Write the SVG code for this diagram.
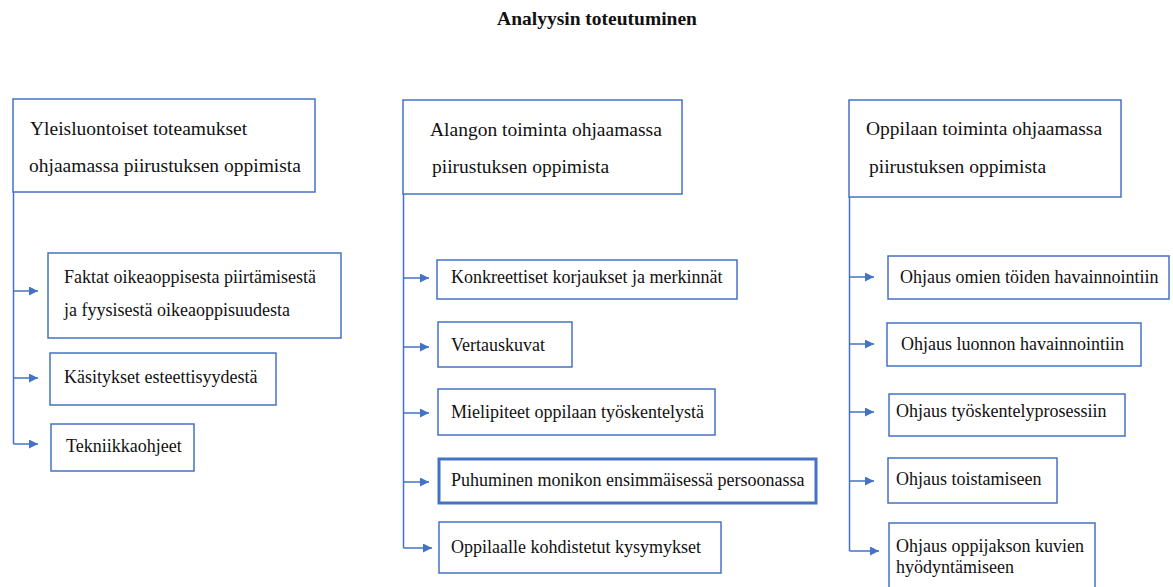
<svg xmlns="http://www.w3.org/2000/svg" width="1173" height="587" viewBox="0 0 1173 587">
<style>
.box{fill:#fff;stroke:#4472C4;stroke-width:1.5}
.thick{stroke-width:3}
.t{font-family:"Liberation Serif","Times New Roman",serif;font-size:18px;fill:#111}
.h{font-size:19.5px}
.title{font-family:"Liberation Serif","Times New Roman",serif;font-size:19.5px;font-weight:bold;fill:#111}
.ln{fill:none;stroke:#4472C4;stroke-width:1.5}
</style>
<defs>
<marker id="arr" markerWidth="10" markerHeight="10" refX="9" refY="4.5" orient="auto" markerUnits="userSpaceOnUse">
<path d="M0,0 L9,4.5 L0,9 Z" fill="#4472C4"/>
</marker>
</defs>
<rect width="1173" height="587" fill="#fff"/>
<text class="title" x="597" y="25" text-anchor="middle">Analyysin toteutuminen</text>

<g id="connectors">
<path class="ln" d="M13.5,192 V444"/>
<path class="ln" d="M13.5,291 H38" marker-end="url(#arr)"/>
<path class="ln" d="M13.5,378 H38" marker-end="url(#arr)"/>
<path class="ln" d="M13.5,444 H38" marker-end="url(#arr)"/>
<path class="ln" d="M403.5,194 V548"/>
<path class="ln" d="M403.5,278 H429" marker-end="url(#arr)"/>
<path class="ln" d="M403.5,347 H429" marker-end="url(#arr)"/>
<path class="ln" d="M403.5,413 H429" marker-end="url(#arr)"/>
<path class="ln" d="M403.5,482 H429" marker-end="url(#arr)"/>
<path class="ln" d="M403.5,548 H432" marker-end="url(#arr)"/>
<path class="ln" d="M849.5,197 V551"/>
<path class="ln" d="M849.5,277 H874" marker-end="url(#arr)"/>
<path class="ln" d="M849.5,344 H874" marker-end="url(#arr)"/>
<path class="ln" d="M849.5,412 H874" marker-end="url(#arr)"/>
<path class="ln" d="M849.5,481 H874" marker-end="url(#arr)"/>
<path class="ln" d="M849.5,551 H879" marker-end="url(#arr)"/>
</g>

<g id="h1"><rect class="box" x="13" y="99" width="302" height="93"/>
<text class="t h" x="30" y="135">Yleisluontoiset toteamukset</text>
<text class="t h" x="29" y="172">ohjaamassa piirustuksen oppimista</text></g>
<g id="n1a"><rect class="box" x="48" y="253" width="293" height="85"/>
<text class="t" x="64" y="283">Faktat oikeaoppisesta piirtämisestä</text>
<text class="t" x="64" y="316">ja fyysisestä oikeaoppisuudesta</text></g>
<g id="n1b"><rect class="box" x="50" y="353" width="226" height="52"/>
<text class="t" x="64" y="383">Käsitykset esteettisyydestä</text></g>
<g id="n1c"><rect class="box" x="51" y="424" width="143" height="47"/>
<text class="t" x="66" y="452">Tekniikkaohjeet</text></g>

<g id="h2"><rect class="box" x="403" y="100" width="279" height="94"/>
<text class="t h" x="430" y="136">Alangon toiminta ohjaamassa</text>
<text class="t h" x="432" y="173">piirustuksen oppimista</text></g>
<g id="n2a"><rect class="box" x="437" y="260" width="300" height="39"/>
<text class="t" x="451" y="283">Konkreettiset korjaukset ja merkinnät</text></g>
<g id="n2b"><rect class="box" x="438" y="322" width="134" height="45"/>
<text class="t" x="451" y="351">Vertauskuvat</text></g>
<g id="n2c"><rect class="box" x="438" y="389" width="277" height="46"/>
<text class="t" x="451" y="418">Mielipiteet oppilaan työskentelystä</text></g>
<g id="n2d"><rect class="box thick" x="439" y="459" width="377" height="44"/>
<text class="t" x="451" y="486">Puhuminen monikon ensimmäisessä persoonassa</text></g>
<g id="n2e"><rect class="box" x="439" y="522" width="282" height="51"/>
<text class="t" x="451" y="553">Oppilaalle kohdistetut kysymykset</text></g>

<g id="h3"><rect class="box" x="849" y="100" width="272" height="97"/>
<text class="t h" x="866" y="135">Oppilaan toiminta ohjaamassa</text>
<text class="t h" x="869" y="173">piirustuksen oppimista</text></g>
<g id="n3a"><rect class="box" x="888" y="256" width="281" height="43"/>
<text class="t" x="900" y="283">Ohjaus omien töiden havainnointiin</text></g>
<g id="n3b"><rect class="box" x="887" y="323" width="254" height="43"/>
<text class="t" x="901" y="350">Ohjaus luonnon havainnointiin</text></g>
<g id="n3c"><rect class="box" x="889" y="394" width="236" height="42"/>
<text class="t" x="896" y="417">Ohjaus työskentelyprosessiin</text></g>
<g id="n3d"><rect class="box" x="888" y="458" width="169" height="45"/>
<text class="t" x="896" y="485">Ohjaus toistamiseen</text></g>
<g id="n3e"><rect class="box" x="889" y="523" width="206" height="80"/>
<text class="t" x="896" y="552">Ohjaus oppijakson kuvien</text>
<text class="t" x="896" y="573">hyödyntämiseen</text></g>
</svg>
